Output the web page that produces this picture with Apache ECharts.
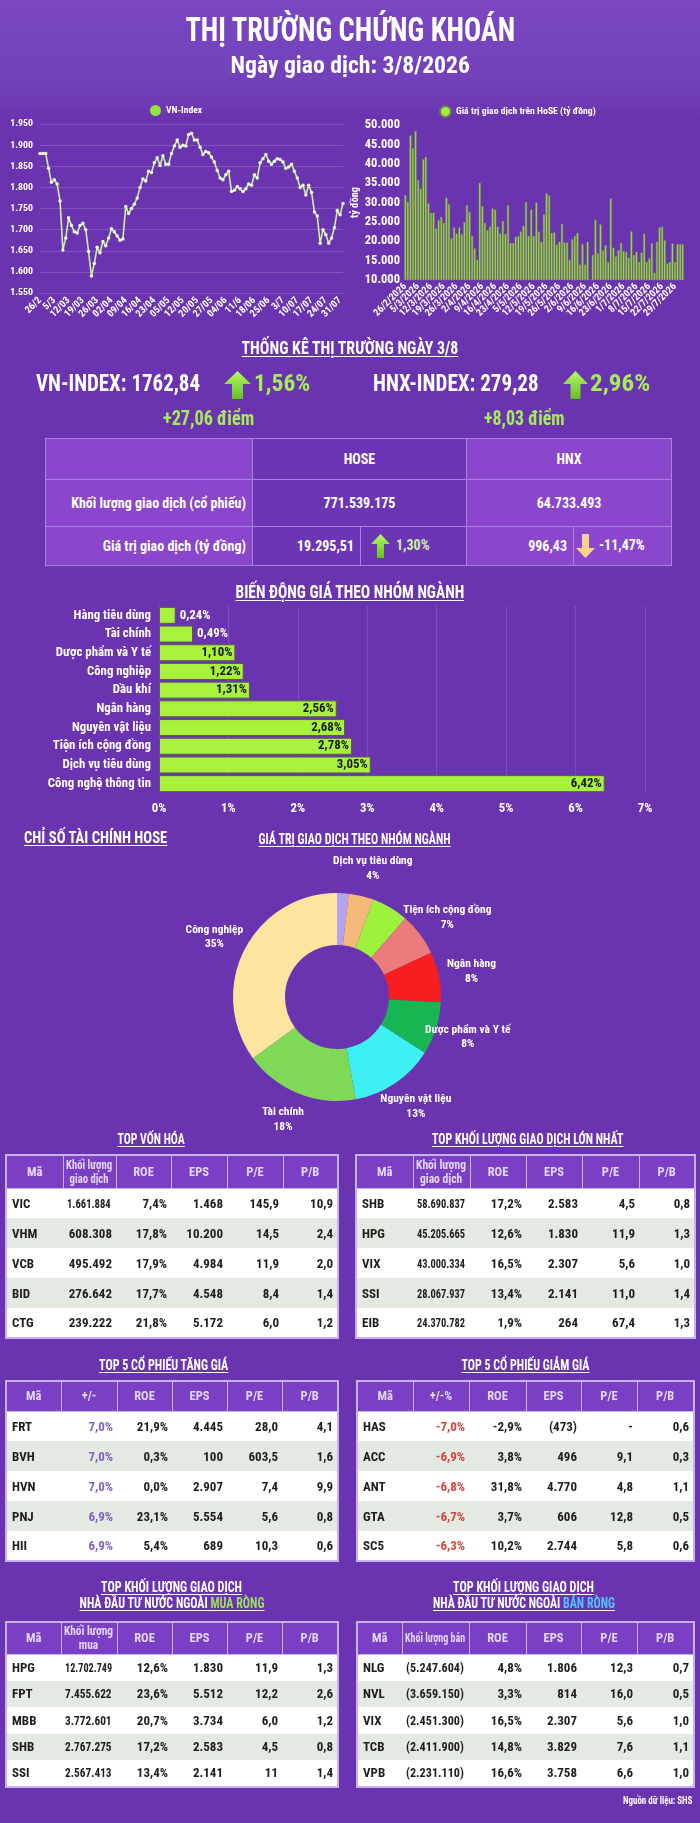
<!DOCTYPE html>
<html lang="vi">
<head>
<meta charset="utf-8">
<title>Thị trường chứng khoán 3/8/2026</title>
<script src="https://cdn.jsdelivr.net/npm/echarts@6.0.0/dist/echarts.min.js"></script>
<style>
  body { margin: 0; }
  #page {
    position: relative; width: 700px; height: 1823px; overflow: hidden;
    background: #6a34b0;
    font-family: "Roboto", sans-serif;
    font-weight: bold; color: #fff;
  }
  #head { position: absolute; left: 0; top: 0; width: 700px; height: 118px;
    background: linear-gradient(180deg, #7b47c2 0%, #7141ba 70%, #6a34b0 100%); }
  #chart { position: absolute; left: 0; top: 0; width: 700px; height: 1823px; }
  .t { position: absolute; white-space: nowrap; display: inline-block; line-height: 1.15; }
  .u { text-decoration: underline; text-underline-offset: 2px; text-decoration-thickness: 1px; }
  .green { color: #a6ec5a; }
  .cell { position: absolute; box-sizing: border-box; border: 1px solid #a883dd; display: flex; align-items: center; font-size: 14px; white-space: nowrap; overflow: hidden; }
  .f { display: inline-block; white-space: nowrap; }
  table.d { position: absolute; border-collapse: collapse; table-layout: fixed; font-size: 13px; border: 2px solid #c7b2ee; }
  table.d th { background: #7b3fc6; color: #e4d8f6; font-weight: bold; font-size: 12.5px; border: 1px solid #c9b6ee; line-height: 14px; padding: 0 2px; text-align: center; overflow: hidden; }
  table.d td { color: #1d1d1d; text-align: right; padding: 0 4px; overflow: hidden; white-space: nowrap; }
  table.d td:first-child { text-align: left; padding-left: 5px; }
  table.d tr:nth-child(odd) td { background: #e4e9e1; }
  table.d tr:nth-child(even) td { background: #ffffff; }
</style>
</head>
<body>
<div id="page">
  <div id="head"></div>
  <div id="chart"></div>

  <span class="t" data-cx="350" data-w="330" style="top:11px;font-size:33px;">THỊ TRƯỜNG CHỨNG KHOÁN</span>
  <span class="t" data-cx="350" data-w="240" style="top:53px;font-size:23px;">Ngày giao dịch: 3/8/2026</span>

  <span class="t u" data-cx="350" data-w="217" style="top:338px;font-size:18px;">THỐNG KÊ THỊ TRƯỜNG NGÀY 3/8</span>
  <span class="t" data-x="36" data-w="164" style="top:371px;font-size:23px;">VN-INDEX: 1762,84</span>
  <svg class="t" style="left:224px;top:371px;" width="27" height="28"><defs><linearGradient id="ga" x1="0" y1="0" x2="0" y2="1"><stop offset="0" stop-color="#b9f768"/><stop offset="1" stop-color="#5fc21f"/></linearGradient></defs><polygon points="13.5,0 27,13 19,13 19,28 8,28 8,13 0,13" fill="url(#ga)"/></svg>
  <span class="t green" data-x="254" data-w="56" style="top:371px;font-size:23px;">1,56%</span>
  <span class="t green" data-x="163" data-w="91" style="top:406px;font-size:21px;">+27,06 điểm</span>
  <span class="t" data-x="373" data-w="166" style="top:371px;font-size:23px;">HNX-INDEX: 279,28</span>
  <svg class="t" style="left:563px;top:371px;" width="25" height="28"><polygon points="12.5,0 25,13 17.5,13 17.5,28 7.5,28 7.5,13 0,13" fill="url(#ga)"/></svg>
  <span class="t green" data-x="590" data-w="60" style="top:371px;font-size:23px;">2,96%</span>
  <span class="t green" data-x="484" data-w="81" style="top:406px;font-size:21px;">+8,03 điểm</span>

  <div id="stats"></div>

  <span class="t u" data-cx="350" data-w="229" style="top:582px;font-size:18px;">BIẾN ĐỘNG GIÁ THEO NHÓM NGÀNH</span>
  <span class="t u" data-x="24" data-w="143" style="top:829px;font-size:16px;">CHỈ SỐ TÀI CHÍNH HOSE</span>
  <span class="t u" data-cx="354" data-w="192" style="top:831px;font-size:14px;">GIÁ TRỊ GIAO DỊCH THEO NHÓM NGÀNH</span>

  <span class="t u" data-cx="151" data-w="67" style="top:1131px;font-size:15px;">TOP VỐN HÓA</span>
  <span class="t u" data-cx="527" data-w="191" style="top:1131px;font-size:15px;">TOP KHỐI LƯỢNG GIAO DỊCH LỚN NHẤT</span>
  <span class="t u" data-cx="163" data-w="129" style="top:1357px;font-size:15px;">TOP 5 CỔ PHIẾU TĂNG GIÁ</span>
  <span class="t u" data-cx="525" data-w="128" style="top:1357px;font-size:15px;">TOP 5 CỔ PHIẾU GIẢM GIÁ</span>
  <span class="t u" data-cx="171" data-w="141" style="top:1579px;font-size:14px;">TOP KHỐI LƯỢNG GIAO DỊCH</span>
  <span class="t u" data-cx="172" data-w="185" style="top:1595px;font-size:14px;">NHÀ ĐẦU TƯ NƯỚC NGOÀI <span style="color:#9be05a">MUA RÒNG</span></span>
  <span class="t u" data-cx="523" data-w="141" style="top:1579px;font-size:14px;">TOP KHỐI LƯỢNG GIAO DỊCH</span>
  <span class="t u" data-cx="524" data-w="182" style="top:1595px;font-size:14px;">NHÀ ĐẦU TƯ NƯỚC NGOÀI <span style="color:#4fc6f5">BÁN RÒNG</span></span>
  <span class="t" data-r="692" data-w="69" style="top:1795px;font-size:11px;">Nguồn dữ liệu: SHS</span>

  <div id="tables"></div>
</div>

<script>
// ---- VN-Index (điểm), 26/2 -> 3/8
var vnIndex = [1880, 1880, 1880, 1845, 1812, 1818, 1808, 1768, 1652, 1680,
  1728, 1710, 1695, 1692, 1710, 1715, 1700, 1648, 1590, 1620,
  1658, 1645, 1672, 1662, 1680, 1702, 1695, 1685, 1675, 1678,
  1755, 1738, 1750, 1760, 1775, 1800, 1820, 1815, 1838, 1835,
  1858, 1870, 1852, 1875, 1855, 1855, 1880, 1898, 1912, 1895,
  1900, 1898, 1925, 1928, 1912, 1912, 1895, 1878, 1885, 1882,
  1872, 1860, 1840, 1822, 1818, 1830, 1838, 1790, 1793, 1802,
  1797, 1790, 1797, 1808, 1805, 1830, 1822, 1858, 1868, 1878,
  1862, 1855, 1862, 1868, 1866, 1860, 1845, 1848, 1855, 1838,
  1822, 1800, 1805, 1782, 1805, 1788, 1742, 1732, 1668, 1700,
  1688, 1668, 1680, 1705, 1745, 1735, 1762];
var vnTicks = ['26/2', '5/3', '12/03', '19/03', '26/03', '02/04', '09/04', '16/04', '23/04', '05/05', '12/05',
  '20/05', '27/05', '04/06', '11/6', '18/06', '25/06', '3/7', '10/07', '17/07', '24/07', '31/07'];

// ---- Giá trị giao dịch HoSE (tỷ đồng)
var hoseValue = [31900, 30200, 47400, 44000, 48500, 35800, 33600, 41200, 41800, 29800,
  27400, 27400, 23300, 25500, 26300, 24800, 31300, 29600, 20800, 23600,
  22000, 23600, 21900, 25000, 29400, 27600, 21400, 18200, 15300, 35100,
  29100, 24800, 22900, 23800, 28500, 28200, 23800, 22000, 25300, 21900,
  29400, 19600, 19600, 21200, 21400, 22500, 24000, 30200, 21400, 28200,
  21400, 30000, 22500, 19900, 27000, 32400, 31900, 22200, 22300, 19200,
  19900, 24500, 19700, 19700, 15200, 20600, 21400, 22200, 14000, 19300,
  14000, 19900, 10200, 16500, 25600, 16900, 24400, 17600, 19000, 14700,
  31100, 18400, 16200, 17700, 19600, 17500, 17300, 15800, 22600, 16500,
  17300, 14700, 17100, 22000, 14700, 15600, 19500, 11900, 19900, 23600,
  23800, 20300, 14300, 14700, 19500, 14700, 19300, 19300, 19300];
var hoseTicks = ['26/2/2026', '5/3/2026', '12/3/2026', '19/3/2026', '26/3/2026', '2/4/2026', '9/4/2026',
  '16/4/2026', '23/4/2026', '5/5/2026', '12/5/2026', '19/5/2026', '26/5/2026', '2/6/2026', '9/6/2026',
  '16/6/2026', '23/6/2026', '1/7/2026', '8/7/2026', '15/7/2026', '22/7/2026', '29/7/2026'];

// ---- Biến động giá theo nhóm ngành (%)
var sectorNames = ['Hàng tiêu dùng', 'Tài chính', 'Dược phẩm và Y tế', 'Công nghiệp', 'Dầu khí',
  'Ngân hàng', 'Nguyên vật liệu', 'Tiện ích cộng đồng', 'Dịch vụ tiêu dùng', 'Công nghệ thông tin'];
var sectorChange = [0.24, 0.49, 1.10, 1.22, 1.31, 2.56, 2.68, 2.78, 3.05, 6.42];

// ---- Giá trị giao dịch theo nhóm ngành (%)
var pieNames = ['Hàng tiêu dùng', 'Dịch vụ tiêu dùng', 'Dầu khí', 'Tiện ích cộng đồng', 'Ngân hàng',
  'Dược phẩm và Y tế', 'Nguyên vật liệu', 'Tài chính', 'Công nghiệp'];
var pieShare = [1.8, 3.9, 5.7, 6.6, 7.8, 8.2, 13.1, 17.9, 35.0];
var pieColors = ['#b3a3f0', '#f4b978', '#9cf23c', '#ec7b7b', '#f61e1e', '#18b553', '#3ef0f4', '#7fd957', '#fde59f'];

// ---- Bảng thống kê
var statHead = ['', 'HOSE', 'HNX'];
var statVolume = ['Khối lượng giao dịch (cổ phiếu)', '771.539.175', '64.733.493'];
var statValue = ['Giá trị giao dịch (tỷ đồng)', '19.295,51', '1,30%', '996,43', '-11,47%'];

var capHead = ['Mã', 'Khối lượng<br>giao dịch', 'ROE', 'EPS', 'P/E', 'P/B'];
var capRows = [
  ['VIC', '1.661.884', '7,4%', '1.468', '145,9', '10,9'],
  ['VHM', '608.308', '17,8%', '10.200', '14,5', '2,4'],
  ['VCB', '495.492', '17,9%', '4.984', '11,9', '2,0'],
  ['BID', '276.642', '17,7%', '4.548', '8,4', '1,4'],
  ['CTG', '239.222', '21,8%', '5.172', '6,0', '1,2']];
var volRows = [
  ['SHB', '58.690.837', '17,2%', '2.583', '4,5', '0,8'],
  ['HPG', '45.205.665', '12,6%', '1.830', '11,9', '1,3'],
  ['VIX', '43.000.334', '16,5%', '2.307', '5,6', '1,0'],
  ['SSI', '28.067.937', '13,4%', '2.141', '11,0', '1,4'],
  ['EIB', '24.370.782', '1,9%', '264', '67,4', '1,3']];
var upHead = ['Mã', '+/-', 'ROE', 'EPS', 'P/E', 'P/B'];
var upRows = [
  ['FRT', '7,0%', '21,9%', '4.445', '28,0', '4,1'],
  ['BVH', '7,0%', '0,3%', '100', '603,5', '1,6'],
  ['HVN', '7,0%', '0,0%', '2.907', '7,4', '9,9'],
  ['PNJ', '6,9%', '23,1%', '5.554', '5,6', '0,8'],
  ['HII', '6,9%', '5,4%', '689', '10,3', '0,6']];
var downHead = ['Mã', '+/-%', 'ROE', 'EPS', 'P/E', 'P/B'];
var downRows = [
  ['HAS', '-7,0%', '-2,9%', '(473)', '-', '0,6'],
  ['ACC', '-6,9%', '3,8%', '496', '9,1', '0,3'],
  ['ANT', '-6,8%', '31,8%', '4.770', '4,8', '1,1'],
  ['GTA', '-6,7%', '3,7%', '606', '12,8', '0,5'],
  ['SC5', '-6,3%', '10,2%', '2.744', '5,8', '0,6']];
var buyHead = ['Mã', 'Khối lượng<br>mua', 'ROE', 'EPS', 'P/E', 'P/B'];
var buyRows = [
  ['HPG', '12.702.749', '12,6%', '1.830', '11,9', '1,3'],
  ['FPT', '7.455.622', '23,6%', '5.512', '12,2', '2,6'],
  ['MBB', '3.772.601', '20,7%', '3.734', '6,0', '1,2'],
  ['SHB', '2.767.275', '17,2%', '2.583', '4,5', '0,8'],
  ['SSI', '2.567.413', '13,4%', '2.141', '11', '1,4']];
var sellHead = ['Mã', 'Khối lượng bán', 'ROE', 'EPS', 'P/E', 'P/B'];
var sellRows = [
  ['NLG', '(5.247.604)', '4,8%', '1.806', '12,3', '0,7'],
  ['NVL', '(3.659.150)', '3,3%', '814', '16,0', '0,5'],
  ['VIX', '(2.451.300)', '16,5%', '2.307', '5,6', '1,0'],
  ['TCB', '(2.411.900)', '14,8%', '3.829', '7,6', '1,1'],
  ['VPB', '(2.231.110)', '16,6%', '3.758', '6,6', '1,0']];

(function () {
  // chọn font hẹp nhất có sẵn
  var ctx = document.createElement('canvas').getContext('2d');
  var probe = 'THỊ TRƯỜNG Ngày giao dịch 0123456789';
  function w(font) { ctx.font = font; return ctx.measureText(probe).width; }
  var baseM = w('bold 20px monospace');
  var FAM = 'Roboto';
  ['Liberation Sans Narrow', 'Roboto Condensed', 'Noto Sans Condensed', 'Roboto', 'Liberation Sans'].some(function (f) {
    var a = w('bold 20px "' + f + '", monospace'), b = w('bold 20px "' + f + '", serif');
    if (Math.abs(a - b) < 0.5 && Math.abs(a - baseM) > 0.5) { FAM = f; return true; }
    return false;
  });
  var FONT = '"' + FAM + '", sans-serif';
  document.getElementById('page').style.fontFamily = FONT;

  function meas(str, size) { ctx.font = 'bold ' + size + 'px ' + FONT; return ctx.measureText(str).width; }
  function fit(str, width, max) { return Math.min(max, Math.floor(max * width / meas(str, max) * 10) / 10); }

  var dots = function (v) { return String(v).replace(/\B(?=(\d{3})+(?!\d))/g, '.'); };
  var pct = function (v) { return v.toFixed(2).replace('.', ',') + '%'; };

  // nhãn trục: mỗi 5 phiên một nhãn, các phiên khác để trống
  var vnCats = vnIndex.map(function (v, i) { return i % 5 === 0 ? vnTicks[i / 5] : ''; });
  var hoseCats = hoseValue.map(function (v, i) { return i % 5 === 0 ? hoseTicks[i / 5] : ''; });

  var legendSize = fit('Giá trị giao dịch trên HoSE (tỷ đồng)', 140, 11);
  var catSize = fit('Công nghệ thông tin', 104, 14.5);
  var valSize = fit('6,42%', 31, 13.5);
  var pieSize = fit('Dịch vụ tiêu dùng', 80, 13.5);

  var myChart = echarts.init(document.getElementById('chart'));

  var option = {
    animation: false,
    textStyle: { fontFamily: FONT, fontWeight: 'bold' },
    legend: [
      { data: [{ name: 'VN-Index', itemStyle: { color: '#8fe33a' } }], left: 145, top: 100,
        icon: 'circle', itemWidth: 11, itemHeight: 11, itemGap: 4,
        textStyle: { color: '#fff', fontSize: legendSize, fontFamily: FONT, fontWeight: 'bold' } },
      { data: ['Giá trị giao dịch trên HoSE (tỷ đồng)'], left: 434, top: 100,
        icon: 'circle', itemWidth: 11, itemHeight: 11,
        textStyle: { color: '#fff', fontSize: legendSize, fontFamily: FONT, fontWeight: 'bold' } }
    ],
    grid: [
      { left: 40, top: 124, width: 303, height: 169 },
      { left: 404, top: 125, width: 280, height: 155 },
      { left: 159, top: 606, width: 486, height: 187 }
    ],
    xAxis: [
      { gridIndex: 0, type: 'category', data: vnCats, boundaryGap: false,
        axisLine: { show: false }, axisTick: { show: false },
        axisLabel: { interval: 0, rotate: 45, color: '#fff', fontSize: fit('12/03', 27, 10), margin: 6 } },
      { gridIndex: 1, type: 'category', data: hoseCats,
        axisLine: { show: false }, axisTick: { show: false },
        axisLabel: { interval: 0, rotate: 45, color: '#fff', fontSize: fit('26/2/2026', 45, 10), margin: 5 } },
      { gridIndex: 2, type: 'value', min: 0, max: 7, interval: 1,
        axisLine: { show: false }, axisTick: { show: false },
        axisLabel: { formatter: '{value}%', color: '#fff', fontSize: catSize, margin: 9 },
        splitLine: { lineStyle: { color: 'rgba(255,255,255,0.13)' } } }
    ],
    yAxis: [
      { gridIndex: 0, type: 'value', min: 1550, max: 1950, interval: 50,
        axisLine: { show: false }, axisTick: { show: false },
        axisLabel: { formatter: dots, color: '#fff', fontSize: fit('1.950', 23, 11.5), margin: 7 },
        splitLine: { lineStyle: { color: 'rgba(255,255,255,0.16)' } } },
      { gridIndex: 1, type: 'value', min: 10000, max: 50000, interval: 5000,
        name: 'tỷ đồng', nameLocation: 'middle', nameGap: 42, nameRotate: 90,
        nameTextStyle: { color: '#fff', fontSize: fit('tỷ đồng', 31, 12.5), fontWeight: 'bold' },
        axisLine: { show: false }, axisTick: { show: false },
        axisLabel: { formatter: dots, color: '#fff', fontSize: fit('50.000', 39, 12.5), margin: 4 },
        splitLine: { show: false } },
      { gridIndex: 2, type: 'category', data: sectorNames, inverse: true,
        axisLine: { show: false }, axisTick: { show: false },
        axisLabel: { color: '#fff', fontSize: catSize, margin: 8 } }
    ],
    series: [
      { name: 'VN-Index', type: 'line', xAxisIndex: 0, yAxisIndex: 0, data: vnIndex,
        symbol: 'circle', symbolSize: 3.5, showAllSymbol: true,
        lineStyle: { color: '#cdeea4', width: 1.6 },
        itemStyle: { color: '#e9f8d6' } },
      { name: 'Giá trị giao dịch trên HoSE (tỷ đồng)', type: 'bar', xAxisIndex: 1, yAxisIndex: 1,
        data: hoseValue, barCategoryGap: '12%',
        itemStyle: { color: '#a3ea43', borderColor: '#6c7a5c', borderWidth: 0.6 } },
      { name: 'sector', type: 'bar', xAxisIndex: 2, yAxisIndex: 2, barWidth: 17,
        data: sectorChange.map(function (v) {
          return { value: v, label: v < 1
            ? { position: 'right', color: '#fff', distance: 4 }
            : { position: 'insideRight', color: '#1a1a1a', distance: 3 } };
        }),
        itemStyle: { color: '#a8f13c', borderColor: '#5a5a5a', borderWidth: 1 },
        label: { show: true, fontSize: valSize, fontWeight: 'bold', fontFamily: FONT,
          formatter: function (p) { return pct(p.value); } } },
      { name: 'share', type: 'pie', center: [337, 997], radius: [52, 104],
        startAngle: 90, clockwise: true,
        data: pieNames.map(function (n, i) {
          var item = { name: n, value: pieShare[i], itemStyle: { color: pieColors[i] } };
          if (n === 'Hàng tiêu dùng' || n === 'Dầu khí') item.label = { show: false };
          return item;
        }),
        label: { show: true, position: 'outside', color: '#fff', fontSize: pieSize, fontWeight: 'bold',
          fontFamily: FONT, lineHeight: pieSize + 3,
          formatter: function (p) { return p.name + '\n' + Math.round(p.percent) + '%'; } },
        labelLine: { show: false, length: 28, length2: 0 },
        labelLayout: { align: 'center', verticalAlign: 'middle' } }
    ]
  };

  myChart.setOption(option);

  // ---- ép chiều ngang chữ tiêu đề cho khớp bản gốc
  document.querySelectorAll('[data-w]').forEach(function (el) {
    var nat = el.offsetWidth, k = +el.dataset.w / nat;
    if (el.dataset.cx) { el.style.left = (+el.dataset.cx - nat / 2) + 'px'; el.style.transformOrigin = 'center top'; }
    else if (el.dataset.r) { el.style.left = (+el.dataset.r - nat) + 'px'; el.style.transformOrigin = 'right top'; }
    else { el.style.left = el.dataset.x + 'px'; el.style.transformOrigin = 'left top'; }
    el.style.transform = 'scaleX(' + k.toFixed(3) + ')';
  });

  function squeeze(span, avail, origin) {
    var nat = span.offsetWidth;
    if (nat > avail) {
      span.style.transformOrigin = origin;
      span.style.transform = 'scaleX(' + (avail / nat).toFixed(3) + ')';
    }
  }

  // ---- bảng thống kê thị trường
  var st = document.getElementById('stats');
  function cell(x, y, wd, h, bg, html, justify, extra) {
    var d = document.createElement('div');
    d.className = 'cell';
    d.style.cssText = 'left:' + x + 'px;top:' + y + 'px;width:' + wd + 'px;height:' + h + 'px;background:' + bg +
      ';justify-content:' + justify + ';' + (extra || '');
    d.innerHTML = '<span class="f">' + html + '</span>';
    st.appendChild(d);
    var origin = justify === 'flex-end' ? 'right center' : (justify === 'center' ? 'center center' : 'left center');
    squeeze(d.firstChild, wd - 14, origin);
  }
  var L = '#8a46cc', D = '#6c35b5';
  var up = '<svg width="19" height="24" style="vertical-align:middle;margin:0 6px 0 0"><polygon points="9.5,0 19,10 13,10 13,24 6,24 6,10 0,10" fill="url(#ga)"/></svg>';
  var dn = '<svg width="19" height="24" style="vertical-align:middle;margin:0 4px 0 0"><polygon points="6,0 13,0 13,14 19,14 9.5,24 0,14 6,14" fill="#fbd08b"/></svg>';
  cell(45, 438, 208, 42, L, statHead[0], 'center');
  cell(252, 438, 215, 42, D, statHead[1], 'center');
  cell(466, 438, 206, 42, L, statHead[2], 'center');
  cell(45, 479, 208, 48, L, statVolume[0], 'flex-end', 'padding-right:6px;');
  cell(252, 479, 215, 48, D, statVolume[1], 'center');
  cell(466, 479, 206, 48, L, statVolume[2], 'center');
  cell(45, 526, 208, 40, L, statValue[0], 'flex-end', 'padding-right:6px;');
  cell(252, 526, 109, 40, D, statValue[1], 'flex-end', 'padding-right:6px;');
  cell(360, 526, 107, 40, D, up + '<span style="color:#c9f0a2">' + statValue[2] + '</span>', 'flex-start', 'padding-left:10px;');
  cell(466, 526, 108, 40, L, statValue[3], 'flex-end', 'padding-right:6px;');
  cell(573, 526, 99, 40, L, dn + statValue[4], 'flex-start', 'padding-left:2px;');

  // ---- các bảng cổ phiếu
  var box = document.getElementById('tables');
  function table(left, top, widths, headH, rowH, head, rows, col2) {
    var t = document.createElement('table');
    t.className = 'd';
    t.style.left = left + 'px';
    t.style.top = top + 'px';
    t.style.width = widths.reduce(function (a, b) { return a + b; }, 0) + 'px';
    var html = '<colgroup>' + widths.map(function (c) { return '<col style="width:' + c + 'px">'; }).join('') + '</colgroup>';
    html += '<tr style="height:' + headH + 'px">' + head.map(function (h) { return '<th><span class="f">' + h + '</span></th>'; }).join('') + '</tr>';
    rows.forEach(function (r) {
      html += '<tr style="height:' + rowH + 'px">' + r.map(function (v, j) {
        return '<td' + (j === 1 && col2 ? ' style="color:' + col2 + '"' : '') + '><span class="f">' + v + '</span></td>';
      }).join('') + '</tr>';
    });
    t.innerHTML = html;
    box.appendChild(t);
    // chữ tràn ô luôn bắt đầu từ mép trái nên co theo mép trái
    t.querySelectorAll('th, td').forEach(function (c) {
      var isTh = c.tagName === 'TH';
      squeeze(c.firstChild, c.clientWidth - (isTh ? 6 : 9), 'left center');
    });
  }
  table(5, 1154, [57, 53, 55, 56, 56, 55], 33, 30, capHead, capRows);
  table(355, 1154, [57, 57, 56, 56, 57, 56], 33, 30, capHead, volRows);
  table(5, 1380, [55, 56, 55, 55, 55, 56], 30, 30, upHead, upRows, '#8062c6');
  table(356, 1380, [56, 56, 57, 55, 56, 57], 30, 30, downHead, downRows, '#d4463e');
  table(5, 1621, [55, 56, 55, 55, 55, 56], 32, 26.5, buyHead, buyRows);
  table(356, 1621, [45, 67, 57, 55, 56, 57], 32, 26.5, sellHead, sellRows);

  window.addEventListener('resize', function () { myChart.resize(); });
})();
</script>
</body>
</html>
